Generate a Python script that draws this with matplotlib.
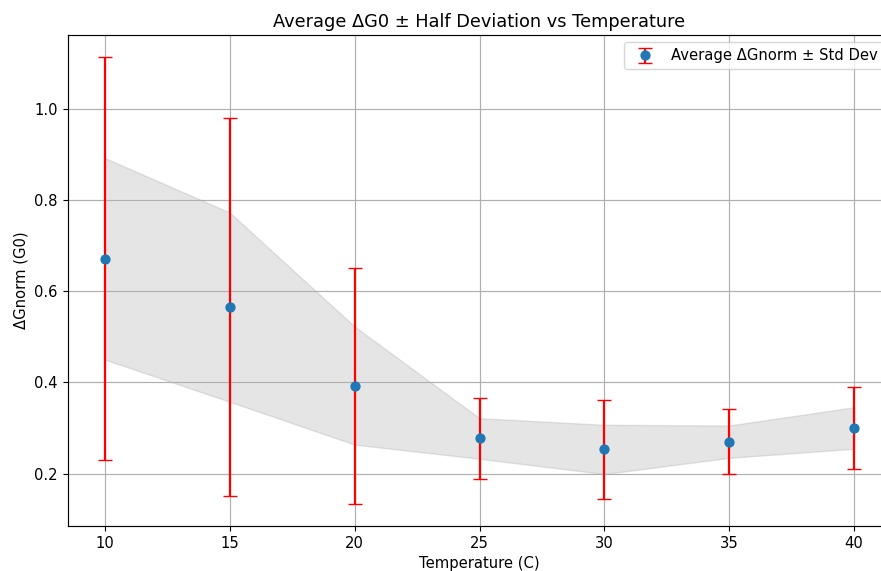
import numpy as np
import matplotlib
matplotlib.use("Agg")
import matplotlib.pyplot as plt

temps = [10, 15, 20, 25, 30, 35, 40]
mean_g = [0.671, 0.565, 0.393, 0.277, 0.253, 0.270, 0.300]
std_g = [0.442, 0.415, 0.259, 0.089, 0.108, 0.071, 0.091]

# slightly enlarged text and marks
s = 1.065
plt.rcParams["font.size"] = 10 * s
plt.rcParams["axes.titlesize"] = 12 * s
plt.rcParams["lines.linewidth"] = 1.5 * s
plt.rcParams["lines.markersize"] = 6 * s
plt.rcParams["grid.linewidth"] = 0.8 * s
plt.rcParams["axes.linewidth"] = 0.8 * s

mean_arr = np.array(mean_g)
half = np.array(std_g) / 2

fig = plt.figure(figsize=(8.81, 5.71), dpi=100)
ax = fig.add_axes([67.5 / 881, 45 / 571, 824 / 881, 491 / 571])

ax.fill_between(temps, mean_arr - half, mean_arr + half, color="gray", alpha=0.2)
ax.errorbar(temps, mean_g, yerr=std_g, fmt="o", ecolor="red", capsize=5 * s,
            label="Average ΔGnorm ± Std Dev")

ax.set_title("Average ΔG0 ± Half Deviation vs Temperature")
ax.set_xlabel("Temperature (C)")
ax.set_ylabel("ΔGnorm (G0)")
ax.grid(True)
ax.legend(loc="upper right")

fig.savefig("out.png", dpi=100)
